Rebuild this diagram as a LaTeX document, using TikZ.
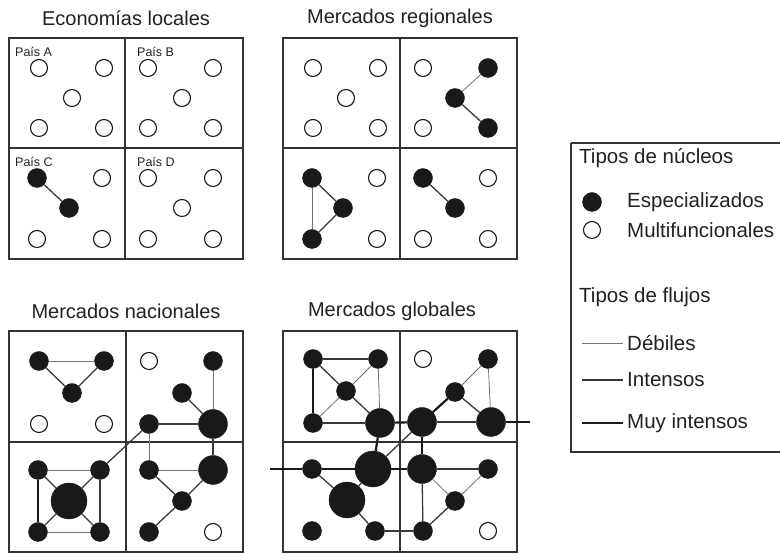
\documentclass[tikz,border=0pt]{standalone}
\usepackage{fontspec}
\setmainfont{Liberation Sans}
\usepackage{tikz}
\usepackage{color}

\begin{document}
\begin{tikzpicture}[x=1pt,y=1pt,
  nucB/.style={shape=circle,draw=cv,fill=cfb,line width=1.1pt,inner sep=0pt,minimum size=17pt},
  nucN/.style={shape=circle,draw=cv,fill=cv,line width=0.4pt,inner sep=0pt,minimum size=19pt},
  nucG/.style={nucN,minimum size=29pt},
  nucX/.style={nucN,minimum size=36pt},
  debil/.style={line width=0.8pt,color=cdeb},
  intenso/.style={line width=1.3pt,color=cint},
  muyint/.style={line width=2.2pt,color=cv},
  marco/.style={line width=1.2pt,draw=cmarco},
  titulo/.style={font=\fontsize{20}{24}\selectfont,text=ctxt,inner sep=0pt},
  pais/.style={font=\fontsize{12.5}{14}\selectfont,text=ctxt,inner sep=2pt,anchor=west},
  leyenda/.style={font=\fontsize{20.5}{24}\selectfont,text=ctxt,inner sep=2pt,anchor=west}]
\definecolor{cv}{rgb}{0.1,0.1,0.1}
\definecolor{cfb}{rgb}{1.0,1.0,1.0}
\definecolor{cdeb}{rgb}{0.45,0.45,0.45}
\definecolor{cint}{rgb}{0.22,0.22,0.22}
\definecolor{cmarco}{rgb}{0.2,0.2,0.2}
\definecolor{ctxt}{rgb}{0.13,0.13,0.13}
\useasboundingbox (0,0) rectangle (780,553);
%
\node[titulo] (tloc) at (126,535) {Economías locales};
\node[titulo] (treg) at (400,535) {Mercados regionales};
\node[titulo] (tnac) at (126,242) {Mercados nacionales};
\node[titulo] (tglo) at (392,242) {Mercados globales};
%
\draw[marco] (9,515) rectangle (243,294);
\draw[marco] (125,515) -- (125,294);
\draw[marco] (9,405) -- (243,405);
\draw[marco] (283,515) rectangle (517,294);
\draw[marco] (400,515) -- (400,294);
\draw[marco] (283,405) -- (517,405);
\draw[marco] (9,222) rectangle (243,1);
\draw[marco] (126,222) -- (126,1);
\draw[marco] (9,111) -- (243,111);
\draw[marco] (283,222) rectangle (517,1);
\draw[marco] (400,222) -- (400,1);
\draw[marco] (283,111) -- (517,111);
%
\node[pais] (pa) at (13,501) {País A};
\node[pais] (pb) at (135,501) {País B};
\node[pais] (pc) at (13,391) {País C};
\node[pais] (pd) at (135,391) {País D};
%
\node[nucB] (vla1) at (39,485) {};
\node[nucB] (vla2) at (104,485) {};
\node[nucB] (vla3) at (72,455) {};
\node[nucB] (vla4) at (39,425) {};
\node[nucB] (vla5) at (104,425) {};
\node[nucB] (vlb1) at (148,485) {};
\node[nucB] (vlb2) at (213,485) {};
\node[nucB] (vlb3) at (182,455) {};
\node[nucB] (vlb4) at (148,425) {};
\node[nucB] (vlb5) at (213,425) {};
\node[nucN] (vlc1) at (37,375) {};
\node[nucB] (vlc2) at (102,375) {};
\node[nucN] (vlc3) at (69,345) {};
\node[nucB] (vlc4) at (37,314) {};
\node[nucB] (vlc5) at (102,314) {};
\node[nucB] (vld1) at (148,375) {};
\node[nucB] (vld2) at (213,375) {};
\node[nucB] (vld3) at (182,345) {};
\node[nucB] (vld4) at (148,314) {};
\node[nucB] (vld5) at (213,314) {};
%
\node[nucB] (vra1) at (313,485) {};
\node[nucB] (vra2) at (378,485) {};
\node[nucB] (vra3) at (346,455) {};
\node[nucB] (vra4) at (313,425) {};
\node[nucB] (vra5) at (378,425) {};
\node[nucB] (vrb1) at (423,485) {};
\node[nucN] (vrb2) at (488,485) {};
\node[nucN] (vrb3) at (455,455) {};
\node[nucB] (vrb4) at (423,425) {};
\node[nucN] (vrb5) at (488,425) {};
\node[nucN] (vrc1) at (312,375) {};
\node[nucB] (vrc2) at (377,375) {};
\node[nucN] (vrc3) at (343,345) {};
\node[nucN] (vrc4) at (312,314) {};
\node[nucB] (vrc5) at (377,314) {};
\node[nucN] (vrd1) at (423,375) {};
\node[nucB] (vrd2) at (488,375) {};
\node[nucN] (vrd3) at (455,345) {};
\node[nucB] (vrd4) at (423,314) {};
\node[nucB] (vrd5) at (488,314) {};
%
\node[nucN] (vna1) at (39,192) {};
\node[nucN] (vna2) at (104,192) {};
\node[nucN] (vna3) at (72,160) {};
\node[nucB] (vna4) at (39,129) {};
\node[nucB] (vna5) at (104,129) {};
\node[nucB] (vnb1) at (149,192) {};
\node[nucN] (vnb2) at (213,192) {};
\node[nucN] (vnb3) at (182,160) {};
\node[nucN] (vnb4) at (149,129) {};
\node[nucG] (vnb5) at (213,129) {};
\node[nucN] (vnc1) at (38,83) {};
\node[nucN] (vnc2) at (100,83) {};
\node[nucX] (vnc3) at (69,52) {};
\node[nucN] (vnc4) at (38,21) {};
\node[nucN] (vnc5) at (100,21) {};
\node[nucN] (vnd1) at (149,83) {};
\node[nucG] (vnd2) at (213,83) {};
\node[nucN] (vnd3) at (182,52) {};
\node[nucN] (vnd4) at (149,21) {};
\node[nucB] (vnd5) at (213,21) {};
%
\node[nucN] (vga1) at (313,194) {};
\node[nucN] (vga2) at (378,194) {};
\node[nucN] (vga3) at (346,162) {};
\node[nucN] (vga4) at (313,130) {};
\node[nucG] (vga5) at (380,130) {};
\node[nucB] (vgb1) at (423,194) {};
\node[nucN] (vgb2) at (488,194) {};
\node[nucN] (vgb3) at (455,161) {};
\node[nucG] (vgb4) at (422,131) {};
\node[nucG] (vgb5) at (491,131) {};
\node[nucN] (vgc1) at (312,84) {};
\node[nucX] (vgc2) at (373,84) {};
\node[nucX] (vgc3) at (347,53) {};
\node[nucN] (vgc4) at (312,22) {};
\node[nucN] (vgc5) at (375,22) {};
\node[nucG] (vgd1) at (422,84) {};
\node[nucN] (vgd2) at (488,84) {};
\node[nucN] (vgd3) at (455,52) {};
\node[nucN] (vgd4) at (423,22) {};
\node[nucB] (vgd5) at (488,22) {};
\coordinate (gsalE) at (530,131);
\coordinate (gsalO) at (270,84);
%
\draw[intenso] (vlc1) -- (vlc3);
\draw[debil] (vrb3) -- (vrb2);
\draw[intenso] (vrb3) -- (vrb5);
\draw[intenso] (vrc1) -- (vrc3);
\draw[intenso] (vrc3) -- (vrc4);
\draw[debil] (vrc1) -- (vrc4);
\draw[intenso] (vrd1) -- (vrd3);
%
\draw[debil] (vna1) -- (vna2);
\draw[intenso] (vna1) -- (vna3);
\draw[intenso] (vna3) -- (vna2);
\draw[debil] (vnb2) -- (vnb5);
\draw[intenso] (vnb3) -- (vnb5);
\draw[intenso] (vnb4) -- (vnb5);
\draw[intenso] (vnb4) -- (vnc2);
\draw[debil] (vnb4) -- (vnd1);
\draw[intenso] (vnb5) -- (vnd2);
\draw[debil] (vnc1) -- (vnc2);
\draw[debil] (vnc4) -- (vnc5);
\draw[muyint] (vnc1) -- (vnc4);
\draw[intenso] (vnc2) -- (vnc5);
\draw[intenso] (vnc1) -- (vnc3);
\draw[intenso] (vnc2) -- (vnc3);
\draw[intenso] (vnc4) -- (vnc3);
\draw[intenso] (vnc5) -- (vnc3);
\draw[debil] (vnd1) -- (vnd2);
\draw[intenso] (vnd1) -- (vnd3);
\draw[intenso] (vnd2) -- (vnd3);
\draw[intenso] (vnd3) -- (vnd4);
%
\draw[intenso] (vga1) -- (vga2);
\draw[muyint] (vga1) -- (vga4);
\draw[debil] (vga2) -- (vga5);
\draw[intenso] (vga1) -- (vga3);
\draw[intenso] (vga3) -- (vga5);
\draw[debil] (vga4) -- (vga3);
\draw[debil] (vga3) -- (vga2);
\draw[intenso] (vga4) -- (vga5);
\draw[debil] (vgb2) -- (vgb3);
\draw[intenso] (vgb3) -- (vgb5);
\draw[debil] (vgb2) -- (vgb5);
\draw[muyint] (vgb3) -- (vgb4);
\draw[intenso] (vgb4) -- (vgc2);
\draw[muyint] (vga5) -- (vgb4);
\draw[intenso] (vgb4) -- (vgb5);
\draw[muyint] (vgb5) -- (gsalE);
\draw[muyint] (vga5) -- (vgc2);
\draw[muyint] (vgb4) -- (vgd1);
\draw[muyint] (gsalO) -- (vgc1);
\draw[muyint] (vgc1) -- (vgc2);
\draw[muyint] (vgc2) -- (vgd1);
\draw[intenso] (vgc1) -- (vgc3);
\draw[intenso] (vgc3) -- (vgc2);
\draw[intenso] (vgc3) -- (vgc5);
\draw[intenso] (vgc5) -- (vgd4);
\draw[intenso] (vgd1) -- (vgd2);
\draw[debil] (vgd1) -- (vgd3);
\draw[debil] (vgd2) -- (vgd3);
\draw[intenso] (vgd1) -- (vgd4);
\draw[intenso] (vgd3) -- (vgd4);
%
\draw[marco] (571,410) -- (790,410);
\draw[marco] (571,410) -- (571,101) -- (790,101);
\node[leyenda] (ltn) at (577,395) {Tipos de núcleos};
\node[nucN] (vle) at (592,351) {};
\node[nucB] (vlm) at (592,323) {};
\node[leyenda] (lesp) at (625,351) {Especializados};
\node[leyenda] (lmul) at (625,323) {Multifuncionales};
\node[leyenda] (ltf) at (577,256) {Tipos de flujos};
\node[leyenda] (ldeb) at (625,210) {Débiles};
\node[leyenda] (lint) at (625,173) {Intensos};
\node[leyenda] (lmuy) at (625,130) {Muy intensos};
\coordinate (cldeb) at (582,210);
\coordinate (clint) at (582,173);
\coordinate (clmuy) at (582,130);
\draw[debil] (cldeb) -- ([xshift=-2pt]ldeb.west);
\draw[intenso] (clint) -- ([xshift=-2pt]lint.west);
\draw[muyint] (clmuy) -- ([xshift=-2pt]lmuy.west);
%
\end{tikzpicture}
\end{document}
